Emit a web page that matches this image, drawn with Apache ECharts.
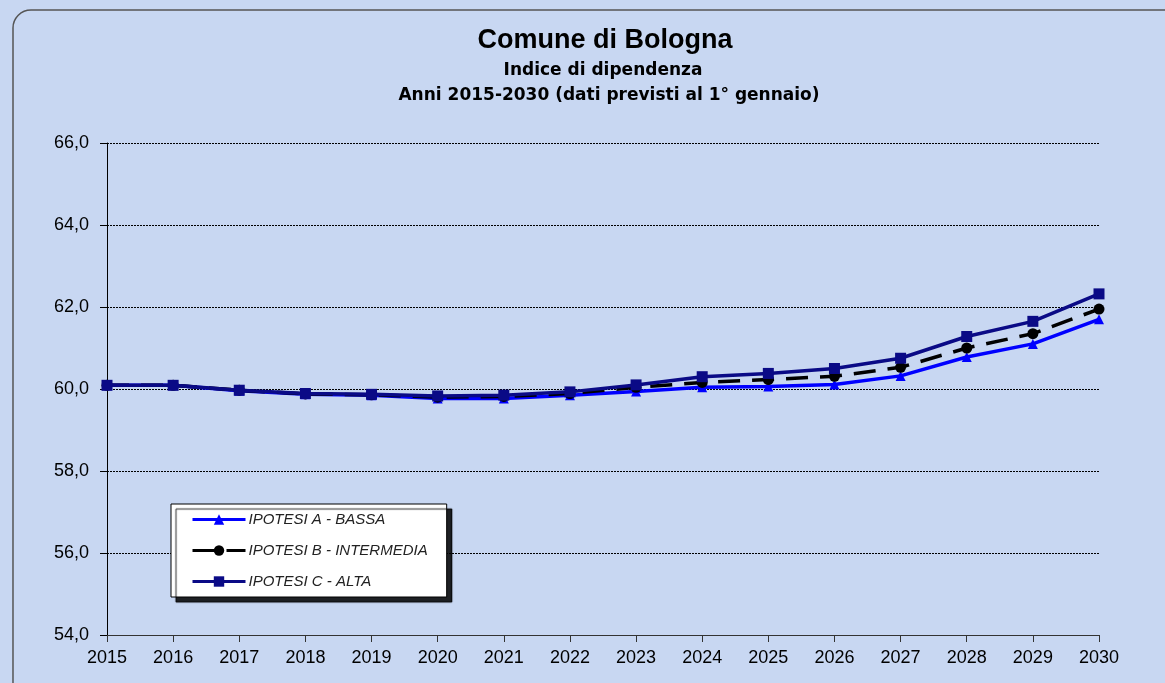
<!DOCTYPE html>
<html>
<head>
<meta charset="utf-8">
<title>Comune di Bologna - Indice di dipendenza</title>
<script src="https://cdn.jsdelivr.net/npm/echarts@6/dist/echarts.min.js"></script>
<style>
  html, body { margin: 0; padding: 0; background: #fff; }
  #chart { width: 1165px; height: 683px; }
</style>
</head>
<body>
<div id="chart"></div>
<script>
// anni
var years = ["2015", "2016", "2017", "2018", "2019", "2020", "2021", "2022",
  "2023", "2024", "2025", "2026", "2027", "2028", "2029", "2030"];

// valori
var ipotesiA = [60.09, 60.09, 59.96, 59.87, 59.85, 59.77, 59.77, 59.85,
  59.94, 60.04, 60.06, 60.11, 60.32, 60.78, 61.10, 61.70];
var ipotesiB = [60.09, 60.09, 59.97, 59.88, 59.86, 59.80, 59.82, 59.89,
  60.04, 60.16, 60.23, 60.31, 60.53, 61.00, 61.35, 61.95];
var ipotesiC = [60.09, 60.09, 59.97, 59.89, 59.87, 59.83, 59.85, 59.93,
  60.10, 60.30, 60.38, 60.50, 60.75, 61.28, 61.65, 62.32];

var seriesNames = ["IPOTESI A - BASSA", "IPOTESI B - INTERMEDIA", "IPOTESI C - ALTA"];

var font = "Liberation Sans, Arial, sans-serif";
var titleFont = "DejaVu Sans, Verdana, sans-serif";

var chart = echarts.init(document.getElementById("chart"));

var option = {
  backgroundColor: "#c8d7f2",
  textStyle: { fontFamily: font },
  graphic: [
    {
      // cornice arrotondata
      type: "rect",
      z: -1,
      shape: { x: 13, y: 10, width: 1200, height: 700, r: 18 },
      style: { fill: "none", stroke: "#555", lineWidth: 1.5 }
    }
  ],
  title: [
    {
      text: "Comune di Bologna",
      left: 600, textAlign: "center", top: 22,
      textStyle: { fontSize: 27, fontWeight: "bold", color: "#000", lineHeight: 27, fontFamily: font }
    },
    {
      text: "Indice di dipendenza",
      left: 598, textAlign: "center", top: 57,
      textStyle: { fontSize: 17, fontWeight: "bold", color: "#000", lineHeight: 17, fontFamily: titleFont }
    },
    {
      text: "Anni 2015-2030 (dati previsti al 1° gennaio)",
      left: 604, textAlign: "center", top: 82,
      textStyle: { fontSize: 17, fontWeight: "bold", color: "#000", lineHeight: 17, fontFamily: titleFont }
    }
  ],
  legend: {
    orient: "vertical",
    left: 171,
    top: 504,
    data: seriesNames,
    backgroundColor: "#fff",
    borderColor: "#000",
    borderWidth: 1,
    shadowColor: "rgba(0,0,0,0.85)",
    shadowOffsetX: 5,
    shadowOffsetY: 5,
    shadowBlur: 1,
    padding: [8, 19, 8, 20],
    itemWidth: 53,
    itemHeight: 13,
    itemGap: 16,
    lineStyle: { width: 3 },
    textStyle: { fontSize: 15, fontStyle: "italic", color: "#222", fontFamily: font, padding: [0, 0, 0, -2] }
  },
  grid: { left: 107, right: 66, top: 143, bottom: 48 },
  xAxis: {
    type: "category",
    data: years,
    boundaryGap: false,
    axisLine: { lineStyle: { color: "#333", width: 1 } },
    axisTick: { show: true, length: 7, inside: false, lineStyle: { color: "#333" } },
    axisLabel: { fontSize: 18, color: "#000", margin: 14, fontFamily: font },
    splitLine: { show: false }
  },
  yAxis: {
    type: "value",
    min: 54,
    max: 66,
    interval: 2,
    axisLine: { show: true, lineStyle: { color: "#000", width: 1 } },
    axisTick: { show: true, length: 7, lineStyle: { color: "#000" } },
    axisLabel: {
      fontSize: 18, color: "#000", margin: 18, fontFamily: font,
      formatter: function (v) { return v.toFixed(1).replace(".", ","); }
    },
    splitLine: { show: true, lineStyle: { color: "#000", type: [2, 1], width: 1 } }
  },
  series: [
    {
      name: seriesNames[0],
      type: "line",
      data: ipotesiA,
      symbol: "triangle",
      symbolSize: 10,
      color: "#0000ff",
      lineStyle: { color: "#0000ff", width: 3.5 },
      itemStyle: { color: "#0000ff" },
      z: 2
    },
    {
      name: seriesNames[1],
      type: "line",
      data: ipotesiB,
      symbol: "circle",
      symbolSize: 11,
      color: "#000",
      lineStyle: { color: "#000", width: 3.5, type: [22, 12] },
      itemStyle: { color: "#000" },
      z: 3
    },
    {
      name: seriesNames[2],
      type: "line",
      data: ipotesiC,
      symbol: "rect",
      symbolSize: 11,
      color: "#0a0a86",
      lineStyle: { color: "#0a0a86", width: 3.5 },
      itemStyle: { color: "#0a0a86" },
      z: 4
    }
  ]
};

chart.setOption(option);
window.addEventListener("resize", function () { chart.resize(); });
</script>
</body>
</html>
